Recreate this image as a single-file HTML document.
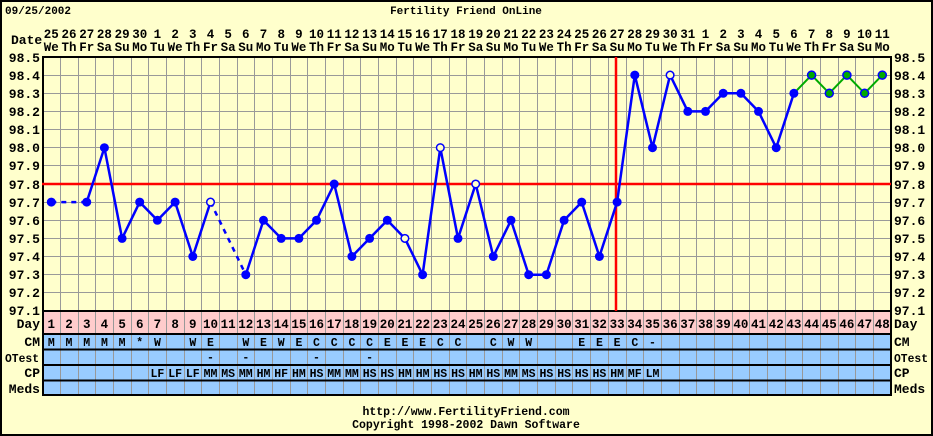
<!DOCTYPE html>
<html><head><meta charset="utf-8"><style>
html,body{margin:0;padding:0;background:#ffffcc}
svg{display:block}
text{font-family:"Liberation Mono",monospace;font-weight:bold;fill:#000}
</style></head><body>
<svg width="933" height="436" viewBox="0 0 933 436" xmlns="http://www.w3.org/2000/svg">
<rect x="0" y="0" width="933" height="436" fill="#ffffcc"/>
<rect x="1" y="1" width="931" height="434" fill="none" stroke="#000" stroke-width="2"/>
<text x="5" y="14" font-size="11">09/25/2002</text>
<text x="466" y="14" font-size="11" text-anchor="middle">Fertility Friend OnLine</text>
<rect x="42.5" y="311" width="849" height="23" fill="#ffcccc"/>
<rect x="42.5" y="334" width="849" height="61" fill="#99ccff"/>
<g stroke="#999" stroke-width="1">
<path d="M60.5 57V395M78.5 57V395M95.5 57V395M113.5 57V395M131.5 57V395M148.5 57V395M166.5 57V395M184.5 57V395M201.5 57V395M219.5 57V395M237.5 57V395M254.5 57V395M272.5 57V395M290.5 57V395M307.5 57V395M325.5 57V395M343.5 57V395M360.5 57V395M378.5 57V395M396.5 57V395M413.5 57V395M431.5 57V395M449.5 57V395M466.5 57V395M484.5 57V395M502.5 57V395M519.5 57V395M537.5 57V395M555.5 57V395M572.5 57V395M590.5 57V395M608.5 57V395M626.5 57V395M643.5 57V395M661.5 57V395M679.5 57V395M696.5 57V395M714.5 57V395M732.5 57V395M749.5 57V395M767.5 57V395M785.5 57V395M802.5 57V395M820.5 57V395M838.5 57V395M855.5 57V395M873.5 57V395"/>
<path d="M42 75.5H891M42 93.5H891M42 111.5H891M42 129.5H891M42 147.5H891M42 165.5H891M42 202.5H891M42 220.5H891M42 238.5H891M42 256.5H891M42 274.5H891M42 292.5H891"/>
</g>
<g stroke="#000" stroke-width="2" fill="none">
<path d="M43 57V395M891 57V395M42 57H892M42 311H892M42 334H892M42 349.5H892M42 365H892M42 380.5H892M42 395H892"/>
</g>
<path d="M42 184H891" stroke="#f00" stroke-width="2.5"/>
<path d="M616 57V311" stroke="#f00" stroke-width="2.5"/>
<g fill="none" stroke-width="2.5" stroke-linejoin="round">
<path d="M51.3 202.1L86.7 202.1M210.5 202.1L245.8 274.7" stroke="#00f" stroke-dasharray="5,5"/>
<path stroke="#00f" d="M86.7 202.1L104.4 147.7L122.1 238.4L139.7 202.1L157.4 220.3L175.1 202.1L192.8 256.5L210.5 202.1M245.8 274.7L263.5 220.3L281.2 238.4L298.9 238.4L316.5 220.3L334.2 184L351.9 256.5L369.6 238.4L387.3 220.3L404.9 238.4L422.6 274.7L440.3 147.7L458 238.4L475.7 184L493.3 256.5L511 220.3L528.7 274.7L546.4 274.7L564.1 220.3L581.7 202.1L599.4 256.5L617.1 202.1L634.8 75.1L652.5 147.7L670.1 75.1L687.8 111.4L705.5 111.4L723.2 93.3L740.9 93.3L758.5 111.4L776.2 147.7L793.9 93.3"/>
<path stroke="#0a0" stroke-width="2" d="M793.9 93.3L811.6 75.1L829.3 93.3L846.9 75.1L864.6 93.3L882.3 75.1"/>
</g>
<g fill="#00f">
<circle cx="51.3" cy="202.1" r="4.5"/><circle cx="86.7" cy="202.1" r="4.5"/><circle cx="104.4" cy="147.7" r="4.5"/><circle cx="122.1" cy="238.4" r="4.5"/><circle cx="139.7" cy="202.1" r="4.5"/><circle cx="157.4" cy="220.3" r="4.5"/><circle cx="175.1" cy="202.1" r="4.5"/><circle cx="192.8" cy="256.5" r="4.5"/><circle cx="245.8" cy="274.7" r="4.5"/><circle cx="263.5" cy="220.3" r="4.5"/><circle cx="281.2" cy="238.4" r="4.5"/><circle cx="298.9" cy="238.4" r="4.5"/><circle cx="316.5" cy="220.3" r="4.5"/><circle cx="334.2" cy="184" r="4.5"/><circle cx="351.9" cy="256.5" r="4.5"/><circle cx="369.6" cy="238.4" r="4.5"/><circle cx="387.3" cy="220.3" r="4.5"/><circle cx="422.6" cy="274.7" r="4.5"/><circle cx="458" cy="238.4" r="4.5"/><circle cx="493.3" cy="256.5" r="4.5"/><circle cx="511" cy="220.3" r="4.5"/><circle cx="528.7" cy="274.7" r="4.5"/><circle cx="546.4" cy="274.7" r="4.5"/><circle cx="564.1" cy="220.3" r="4.5"/><circle cx="581.7" cy="202.1" r="4.5"/><circle cx="599.4" cy="256.5" r="4.5"/><circle cx="617.1" cy="202.1" r="4.5"/><circle cx="634.8" cy="75.1" r="4.5"/><circle cx="652.5" cy="147.7" r="4.5"/><circle cx="687.8" cy="111.4" r="4.5"/><circle cx="705.5" cy="111.4" r="4.5"/><circle cx="723.2" cy="93.3" r="4.5"/><circle cx="740.9" cy="93.3" r="4.5"/><circle cx="758.5" cy="111.4" r="4.5"/><circle cx="776.2" cy="147.7" r="4.5"/><circle cx="793.9" cy="93.3" r="4.5"/>
</g>
<g fill="#ffffcc" stroke="#00f" stroke-width="1.5">
<circle cx="210.5" cy="202.1" r="3.8"/><circle cx="404.9" cy="238.4" r="3.8"/><circle cx="440.3" cy="147.7" r="3.8"/><circle cx="475.7" cy="184" r="3.8"/><circle cx="670.1" cy="75.1" r="3.8"/>
</g>
<g fill="#0a0" stroke="#00f" stroke-width="1.5">
<circle cx="811.6" cy="75.1" r="4"/><circle cx="829.3" cy="93.3" r="4"/><circle cx="846.9" cy="75.1" r="4"/><circle cx="864.6" cy="93.3" r="4"/><circle cx="882.3" cy="75.1" r="4"/>
</g>
<g font-size="13" text-anchor="end">
<text x="40" y="62">98.5</text><text x="40" y="80">98.4</text><text x="40" y="98">98.3</text><text x="40" y="116">98.2</text><text x="40" y="134">98.1</text><text x="40" y="152">98.0</text><text x="40" y="170">97.9</text><text x="40" y="189">97.8</text><text x="40" y="207">97.7</text><text x="40" y="225">97.6</text><text x="40" y="243">97.5</text><text x="40" y="261">97.4</text><text x="40" y="279">97.3</text><text x="40" y="297">97.2</text><text x="40" y="315">97.1</text>
<text x="40" y="328">Day</text><text x="40" y="346">CM</text><text x="40" y="377">CP</text><text x="40" y="393">Meds</text>
</g>
<text x="5" y="362" font-size="12" textLength="34" lengthAdjust="spacingAndGlyphs">OTest</text>
<g font-size="13">
<text x="894" y="62">98.5</text><text x="894" y="80">98.4</text><text x="894" y="98">98.3</text><text x="894" y="116">98.2</text><text x="894" y="134">98.1</text><text x="894" y="152">98.0</text><text x="894" y="170">97.9</text><text x="894" y="189">97.8</text><text x="894" y="207">97.7</text><text x="894" y="225">97.6</text><text x="894" y="243">97.5</text><text x="894" y="261">97.4</text><text x="894" y="279">97.3</text><text x="894" y="297">97.2</text><text x="894" y="315">97.1</text>
<text x="894" y="328">Day</text><text x="894" y="346">CM</text><text x="894" y="377">CP</text><text x="894" y="393">Meds</text>
<text x="11" y="44">Date</text>
</g>
<text x="894" y="362" font-size="12" textLength="34" lengthAdjust="spacingAndGlyphs">OTest</text>
<g font-size="12.5" text-anchor="middle">
<text y="38"><tspan x="51.3">25</tspan><tspan x="69">26</tspan><tspan x="86.7">27</tspan><tspan x="104.4">28</tspan><tspan x="122.1">29</tspan><tspan x="139.7">30</tspan><tspan x="157.4">1</tspan><tspan x="175.1">2</tspan><tspan x="192.8">3</tspan><tspan x="210.5">4</tspan><tspan x="228.1">5</tspan><tspan x="245.8">6</tspan><tspan x="263.5">7</tspan><tspan x="281.2">8</tspan><tspan x="298.9">9</tspan><tspan x="316.5">10</tspan><tspan x="334.2">11</tspan><tspan x="351.9">12</tspan><tspan x="369.6">13</tspan><tspan x="387.3">14</tspan><tspan x="404.9">15</tspan><tspan x="422.6">16</tspan><tspan x="440.3">17</tspan><tspan x="458">18</tspan><tspan x="475.7">19</tspan><tspan x="493.3">20</tspan><tspan x="511">21</tspan><tspan x="528.7">22</tspan><tspan x="546.4">23</tspan><tspan x="564.1">24</tspan><tspan x="581.7">25</tspan><tspan x="599.4">26</tspan><tspan x="617.1">27</tspan><tspan x="634.8">28</tspan><tspan x="652.5">29</tspan><tspan x="670.1">30</tspan><tspan x="687.8">31</tspan><tspan x="705.5">1</tspan><tspan x="723.2">2</tspan><tspan x="740.9">3</tspan><tspan x="758.5">4</tspan><tspan x="776.2">5</tspan><tspan x="793.9">6</tspan><tspan x="811.6">7</tspan><tspan x="829.3">8</tspan><tspan x="846.9">9</tspan><tspan x="864.6">10</tspan><tspan x="882.3">11</tspan></text>
<text y="51"><tspan x="51.3">We</tspan><tspan x="69">Th</tspan><tspan x="86.7">Fr</tspan><tspan x="104.4">Sa</tspan><tspan x="122.1">Su</tspan><tspan x="139.7">Mo</tspan><tspan x="157.4">Tu</tspan><tspan x="175.1">We</tspan><tspan x="192.8">Th</tspan><tspan x="210.5">Fr</tspan><tspan x="228.1">Sa</tspan><tspan x="245.8">Su</tspan><tspan x="263.5">Mo</tspan><tspan x="281.2">Tu</tspan><tspan x="298.9">We</tspan><tspan x="316.5">Th</tspan><tspan x="334.2">Fr</tspan><tspan x="351.9">Sa</tspan><tspan x="369.6">Su</tspan><tspan x="387.3">Mo</tspan><tspan x="404.9">Tu</tspan><tspan x="422.6">We</tspan><tspan x="440.3">Th</tspan><tspan x="458">Fr</tspan><tspan x="475.7">Sa</tspan><tspan x="493.3">Su</tspan><tspan x="511">Mo</tspan><tspan x="528.7">Tu</tspan><tspan x="546.4">We</tspan><tspan x="564.1">Th</tspan><tspan x="581.7">Fr</tspan><tspan x="599.4">Sa</tspan><tspan x="617.1">Su</tspan><tspan x="634.8">Mo</tspan><tspan x="652.5">Tu</tspan><tspan x="670.1">We</tspan><tspan x="687.8">Th</tspan><tspan x="705.5">Fr</tspan><tspan x="723.2">Sa</tspan><tspan x="740.9">Su</tspan><tspan x="758.5">Mo</tspan><tspan x="776.2">Tu</tspan><tspan x="793.9">We</tspan><tspan x="811.6">Th</tspan><tspan x="829.3">Fr</tspan><tspan x="846.9">Sa</tspan><tspan x="864.6">Su</tspan><tspan x="882.3">Mo</tspan></text>
</g>
<g font-size="12.5" text-anchor="middle">
<text y="328"><tspan x="51.3">1</tspan><tspan x="69">2</tspan><tspan x="86.7">3</tspan><tspan x="104.4">4</tspan><tspan x="122.1">5</tspan><tspan x="139.7">6</tspan><tspan x="157.4">7</tspan><tspan x="175.1">8</tspan><tspan x="192.8">9</tspan><tspan x="210.5">10</tspan><tspan x="228.1">11</tspan><tspan x="245.8">12</tspan><tspan x="263.5">13</tspan><tspan x="281.2">14</tspan><tspan x="298.9">15</tspan><tspan x="316.5">16</tspan><tspan x="334.2">17</tspan><tspan x="351.9">18</tspan><tspan x="369.6">19</tspan><tspan x="387.3">20</tspan><tspan x="404.9">21</tspan><tspan x="422.6">22</tspan><tspan x="440.3">23</tspan><tspan x="458">24</tspan><tspan x="475.7">25</tspan><tspan x="493.3">26</tspan><tspan x="511">27</tspan><tspan x="528.7">28</tspan><tspan x="546.4">29</tspan><tspan x="564.1">30</tspan><tspan x="581.7">31</tspan><tspan x="599.4">32</tspan><tspan x="617.1">33</tspan><tspan x="634.8">34</tspan><tspan x="652.5">35</tspan><tspan x="670.1">36</tspan><tspan x="687.8">37</tspan><tspan x="705.5">38</tspan><tspan x="723.2">39</tspan><tspan x="740.9">40</tspan><tspan x="758.5">41</tspan><tspan x="776.2">42</tspan><tspan x="793.9">43</tspan><tspan x="811.6">44</tspan><tspan x="829.3">45</tspan><tspan x="846.9">46</tspan><tspan x="864.6">47</tspan><tspan x="882.3">48</tspan></text>
</g>
<g font-size="11.5" text-anchor="middle">
<text y="346"><tspan x="51.3">M</tspan><tspan x="69">M</tspan><tspan x="86.7">M</tspan><tspan x="104.4">M</tspan><tspan x="122.1">M</tspan><tspan x="139.7">*</tspan><tspan x="157.4">W</tspan><tspan x="192.8">W</tspan><tspan x="210.5">E</tspan><tspan x="245.8">W</tspan><tspan x="263.5">E</tspan><tspan x="281.2">W</tspan><tspan x="298.9">E</tspan><tspan x="316.5">C</tspan><tspan x="334.2">C</tspan><tspan x="351.9">C</tspan><tspan x="369.6">C</tspan><tspan x="387.3">E</tspan><tspan x="404.9">E</tspan><tspan x="422.6">E</tspan><tspan x="440.3">C</tspan><tspan x="458">C</tspan><tspan x="493.3">C</tspan><tspan x="511">W</tspan><tspan x="528.7">W</tspan><tspan x="581.7">E</tspan><tspan x="599.4">E</tspan><tspan x="617.1">E</tspan><tspan x="634.8">C</tspan><tspan x="652.5">-</tspan></text>
<text y="361"><tspan x="210.5">-</tspan><tspan x="245.8">-</tspan><tspan x="316.5">-</tspan><tspan x="369.6">-</tspan></text>
<text y="377"><tspan x="157.4">LF</tspan><tspan x="175.1">LF</tspan><tspan x="192.8">LF</tspan><tspan x="210.5">MM</tspan><tspan x="228.1">MS</tspan><tspan x="245.8">MM</tspan><tspan x="263.5">HM</tspan><tspan x="281.2">HF</tspan><tspan x="298.9">HM</tspan><tspan x="316.5">HS</tspan><tspan x="334.2">MM</tspan><tspan x="351.9">MM</tspan><tspan x="369.6">HS</tspan><tspan x="387.3">HS</tspan><tspan x="404.9">HM</tspan><tspan x="422.6">HM</tspan><tspan x="440.3">HS</tspan><tspan x="458">HS</tspan><tspan x="475.7">HM</tspan><tspan x="493.3">HS</tspan><tspan x="511">MM</tspan><tspan x="528.7">MS</tspan><tspan x="546.4">HS</tspan><tspan x="564.1">HS</tspan><tspan x="581.7">HS</tspan><tspan x="599.4">HS</tspan><tspan x="617.1">HM</tspan><tspan x="634.8">MF</tspan><tspan x="652.5">LM</tspan></text>
</g>
<g font-size="11.5" text-anchor="middle">
<text x="466" y="415">http://www.FertilityFriend.com</text>
<text x="466" y="428">Copyright 1998-2002 Dawn Software</text>
</g>
</svg>
</body></html>
